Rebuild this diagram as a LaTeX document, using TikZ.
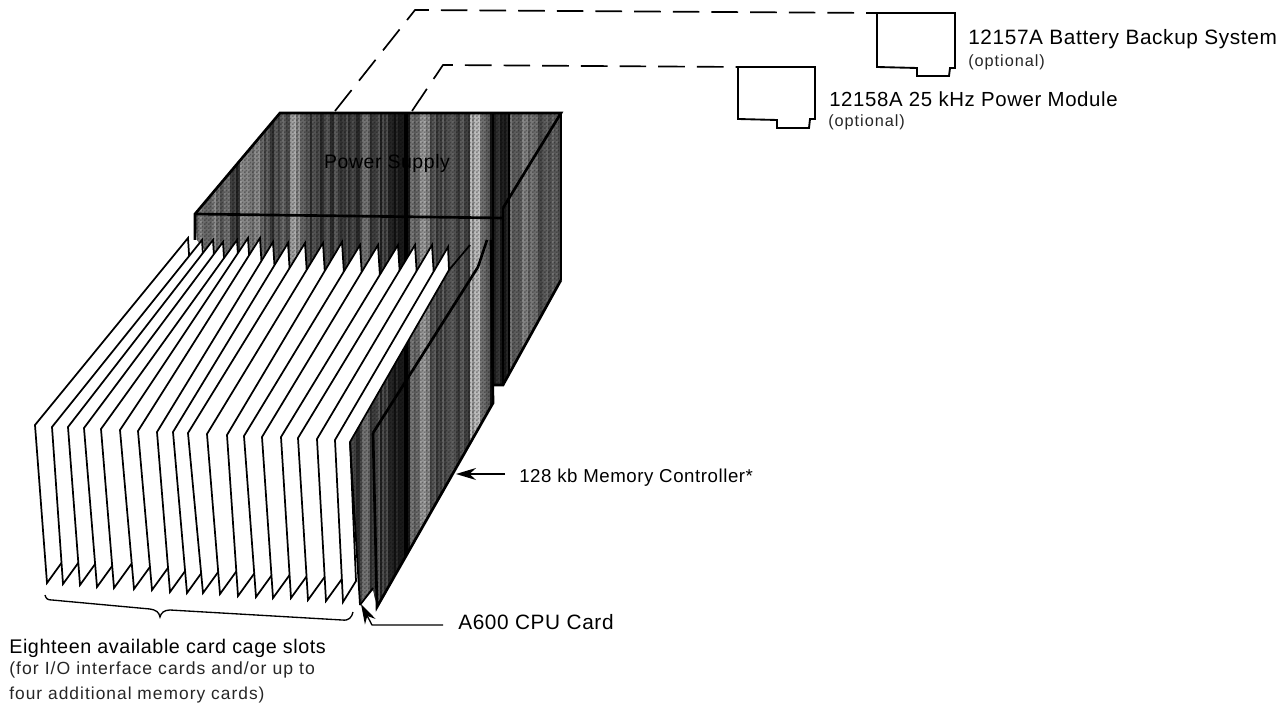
\documentclass[tikz,border=0pt]{standalone}
\usepackage{fontspec}
\setmainfont{Liberation Sans}
\usetikzlibrary{patterns,arrows.meta}
\pgfdeclarepatternformonly{dith}{\pgfpointorigin}{\pgfqpoint{3pt}{3pt}}{\pgfqpoint{3pt}{3pt}}{%
  \pgfpathrectangle{\pgfpointorigin}{\pgfqpoint{1.5pt}{1.5pt}}%
  \pgfpathrectangle{\pgfqpoint{1.5pt}{1.5pt}}{\pgfqpoint{1.5pt}{1.5pt}}\pgfusepath{fill}}
\newfontfamily\labfont[LetterSpace=3]{Liberation Sans}
\newfontfamily\subfont[LetterSpace=6]{Liberation Sans}
\newcommand{\labsize}[1]{\labfont\fontsize{#1}{#1}\selectfont}
\newcommand{\subsize}[1]{\subfont\fontsize{#1}{#1}\selectfont}
\tikzset{
  edgeline/.style={black,line width=2pt,line join=miter},
  thinedge/.style={black,line width=1.3pt,line join=miter},
  cardbox/.style={fill=white,draw=black,line width=1.3pt,line join=miter},
  modbox/.style={draw=black,line width=1.4pt,fill=white},
  dashline/.style={draw=black,line width=1.25pt,dash pattern=on 20pt off 9pt},
  lead/.style={black,line width=1pt,-{Stealth[length=15pt,width=9pt]}},
  brace/.style={black,line width=1pt},
  mainlab/.style={anchor=west,inner sep=0pt},
  sublab/.style={anchor=west,inner sep=0pt,black!85},
}
\begin{document}
\begin{tikzpicture}[x=0.75pt,y=-0.75pt]
\useasboundingbox[fill=white] (0,0) rectangle (1287,705);
% dark body with stripes
\begin{scope}
\clip (280,113)--(561,113)--(561,280)--(503,385)--(493,385)--(493,403)--(377,607)--(373,590)--(360,605)--(350,442)--(197,240)--(195,214)--cycle;
\pgfmathsetseed{42}
\foreach \x/\g in {190/.48,200/.48,210/.48,220/.4,230/.22,240/.5,250/.46,260/.32,270/.27,280/.33,290/.58,300/.38,310/.27,320/.27,330/.25,340/.27,350/.27,360/.4,370/.27,380/.22,390/.12,400/.08,410/.42,420/.56,430/.28,440/.32,450/.32,460/.28,470/.66,480/.42,490/.1,500/.08,510/.44,520/.48,530/.38,540/.33,550/.4,560/.4}{
  \foreach \k in {0,2,4,6,8}{
    \pgfmathsetmacro\v{min(100,max(0,100*(1-\g)+rnd*22-11))}
    \fill[black!\v] (\x+\k,100) rectangle (\x+\k+2.5,620);
  }
}
\fill[pattern=dith,pattern color=black,opacity=.3] (185,100) rectangle (570,620);
\end{scope}
% power supply label
\node[inner sep=0pt,anchor=center,font=\labsize{14.6pt},black] (ps) at (387,163) {Power Supply};
% box outlines
\draw[edgeline] (195,240)--(195,214)--(280,113)--(561,113)--(503,208);
\draw[edgeline] (195,214)--(503,218);
\draw[thinedge] (561,113)--(561,280);
\draw[edgeline] (561,280)--(503,385)--(493,385);
\draw[edgeline] (503,208)--(503,385);
\draw[edgeline] (491,240)--(493,403)--(377,607)--(373,433);
\draw[edgeline] (373,433)--(478,267)--(487,240);
\draw[thinedge] (360,605)--(373,588);
% cards
\foreach \fx/\fy/\tx/\ty/\bx/\by in {35/425/188/238/47/583,52/427/202/240/63/584,68/427/213/240/80/585,84/428/223/242/97/587,101/429/237/240/114/588,120/430/248/238/134/589,138/431/260/238/152/590,157/432/273/242/170/592,173/432/288/243/187/593,188/433/305/243/203/593,207/434/323/243/220/594,227/435/342/242/238/596,244/436/360/245/256/597,262/437/378/245/273/598,281/437/398/245/291/598,298/438/415/245/308/600,317/439/432/245/326/601}{
  \draw[cardbox] (\fx,\fy)--(\tx,\ty)--(\tx+2,\ty+32)--(\fx+21,\fy+10)--(\bx+26,\by-36)--(\bx,\by)--cycle;
}
\draw[cardbox] (335,440)--(448,247)--(449,270)--(350,442)--(356,581)--(343,602)--cycle;
\draw[thinedge] (350,442)--(360,605);
\draw[thinedge] (449,270)--(470,245);
% dashed connectors
\coordinate (d1a) at (335,111);
\coordinate (d1b) at (415,10);
\coordinate (d2a) at (412,111);
\coordinate (d2b) at (443,65);
% modules
\node[inner sep=0pt] (modA) at (877,13) {};
\node[inner sep=0pt] (modB) at (738,67) {};
\draw[dashline] (d1a)--(d1b)--(modA.center);
\draw[dashline] (d2a)--(d2b)--(modB.center);
\draw[modbox] (modA.center)--(955,13)--(955,68)--(950,68)--(949,76)--(917,76)--(917,68)--(877,67)--cycle;
\draw[modbox] (modB.center)--(815,67)--(815,119)--(810,119)--(809,128)--(777,128)--(777,120)--(738,119)--cycle;
% labels
\node[mainlab,font=\labsize{15.6pt}] (labA) at (968,39) {12157A Battery Backup System};
\node[sublab,font=\subsize{12.2pt}] (optA) at (968,62) {(optional)};
\node[mainlab,font=\labsize{15.3pt}] (labB) at (829,99) {12158A 25 kHz Power Module};
\node[sublab,font=\subsize{12.2pt}] (optB) at (828,122) {(optional)};
\node[mainlab,font=\labsize{14pt}] (labM) at (519,478) {128 kb Memory Controller*};
\node[mainlab,font=\labsize{15.6pt}] (labC) at (458,622) {A600 CPU Card};
\node[mainlab,font=\labsize{14.8pt}] (labE) at (9,648) {Eighteen available card cage slots};
\node[sublab,font=\subsize{13.2pt}] (labF) at (9,670) {(for I/O interface cards and/or up to};
\node[sublab,font=\subsize{13pt}] (labG) at (9,695) {four additional memory cards)};
% leader arrows
\coordinate (mA) at (505,474);
\coordinate (mT) at (456,474);
\coordinate (cA) at (443,625);
\coordinate (cB) at (372,625);
\coordinate (cT) at (361,604);
\draw[lead] (mA)--(mT);
\draw[lead] (cA)--(cB)--(cT);
% brace
\draw[brace] (45,595) .. controls (46,599) and (48,600) .. (52,600) -- (150,609) .. controls (156,610) and (159,612) .. (160,617) .. controls (161,613) and (164,610) .. (170,610) -- (342,620) .. controls (349,621) and (352,617) .. (353,612);
\end{tikzpicture}
\end{document}
